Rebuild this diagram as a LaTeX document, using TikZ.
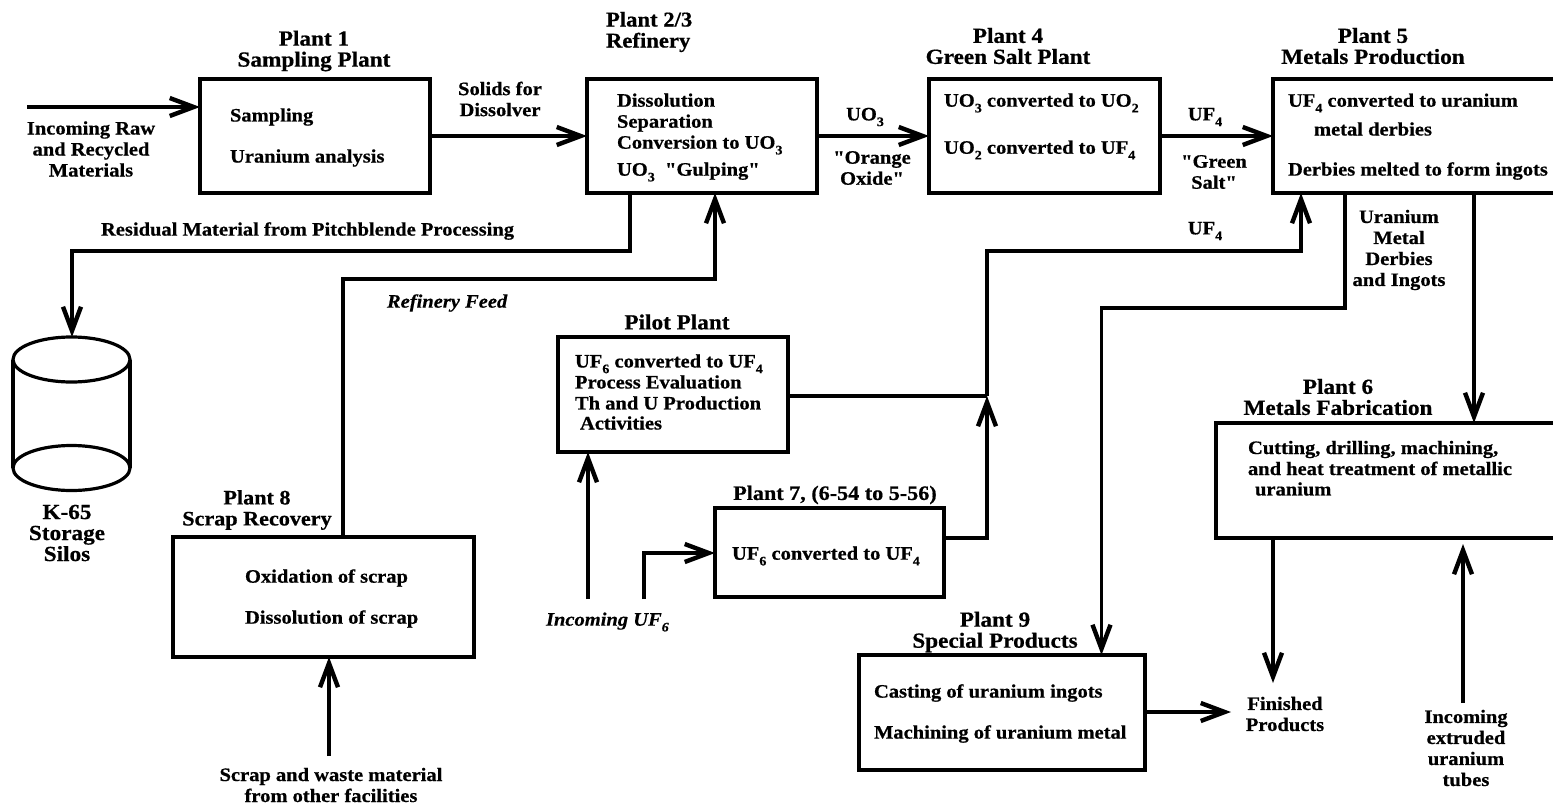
\documentclass[tikz,border=0pt]{standalone}
\usepackage{fontspec}
\defaultfontfeatures[\rmfamily]{}
\setmainfont[FakeStretch=1.08,BoldFeatures={FakeBold=0.6,FakeStretch=1.08},BoldItalicFeatures={FakeBold=0.4,FakeStretch=1.08}]{Liberation Serif}
\usetikzlibrary{arrows.meta}
\newcommand{\subs}[1]{\raisebox{-0.3em}{\fontsize{13}{13}\selectfont #1}}
\newcommand{\dq}{{\char34}}
\tikzset{
  x=1pt,y=-1pt,
  pbox/.style={draw=black,line width=3.6pt,inner sep=0pt,outer sep=0pt,fill=none},
  flow/.style={draw=black,line width=3.2pt,line join=miter,-{Straight Barb[length=24pt,width=18pt,line width=4.4pt]}},
  thickflow/.style={flow,line width=4.2pt},
  pipe/.style={draw=black,line width=3.2pt,line join=miter},
  txt/.style={font=\bfseries\fontsize{19}{21}\selectfont,inner sep=0pt,outer sep=0pt,text=black},
  lft/.style={txt,anchor=west,align=left},
  ctr/.style={txt,anchor=center,align=center},
  ttl/.style={txt,anchor=center,align=center,font=\bfseries\fontsize{21.5}{21}\selectfont},
  ital/.style={font=\bfseries\itshape\fontsize{19}{21}\selectfont},
}
\begin{document}
\begin{tikzpicture}
\useasboundingbox (0,0) rectangle (1553,806);
\fill[white] (0,0) rectangle (1553,806);
\clip (0,0) rectangle (1553,806);
% boxes
\node[pbox,minimum width=230pt,minimum height=114pt] (p1) at (315,136) {};
\node[pbox,minimum width=230pt,minimum height=114pt] (p2) at (702,136) {};
\node[pbox,minimum width=231pt,minimum height=114pt] (p4) at (1044.5,136) {};
\node[pbox,minimum width=300pt,minimum height=114pt] (p5) at (1423,136) {};
\node[pbox,minimum width=230pt,minimum height=115pt] (pilot) at (673,394.5) {};
\node[pbox,minimum width=229pt,minimum height=89pt] (p7) at (829.5,552.5) {};
\node[pbox,minimum width=301pt,minimum height=120pt] (p8) at (323.5,597) {};
\node[pbox,minimum width=286pt,minimum height=115pt] (p9) at (1002,712.5) {};
\node[pbox,minimum width=350pt,minimum height=115pt] (p6) at (1391,480.5) {};
% silo
\coordinate (silotop) at (72,337);
\draw[pipe] (71.5,359.5) ellipse[x radius=58.5,y radius=22.5];
\draw[pipe] (13,359.5) -- (13,468);
\draw[pipe] (130,359.5) -- (130,468);
\draw[pipe] (71.5,468) ellipse[x radius=58.5,y radius=22.5];
% free ends
\coordinate (rawin) at (27,107);
\coordinate (uf6a) at (588,599);
\coordinate (uf6b) at (644,599);
\coordinate (scrapin) at (329,756);
\coordinate (tubes) at (1463,703);
\coordinate (fin1) at (1273,683);
\coordinate (fin2) at (1231,712);
\coordinate (join) at (987,396);
% connectors
\draw[thickflow] (rawin) -- (p1.west |- rawin);
\draw[thickflow] (p1.east |- 0,136) -- (p2.west |- 0,136);
\draw[thickflow] (p2.east |- 0,136) -- (p4.west |- 0,136);
\draw[thickflow] (p4.east |- 0,136) -- (p5.west |- 0,136);
\draw[flow] (630,193) -- (630,251) -- (72,251) -- (silotop);
\draw[flow] (343,537) -- (343,279) -- (715,279) -- (715,193);
\draw[pipe] (pilot.east |- join) -- (join);
\draw[flow] (p7.east |- 0,538) -- (987,538) -- (join);
\draw[flow] (join) -- (987,251) -- (1301,251) -- (1301,193);
\draw[flow] (uf6a) -- (uf6a |- pilot.south);
\draw[flow] (uf6b) -- (644,553) -- (p7.west |- 0,553);
\draw[flow] (scrapin) -- (scrapin |- p8.south);
\draw[flow] (1345,193) -- (1345,308) -- (1101.5,308) -- (1101.5,655);
\draw[flow] (1474,193) -- (1474,423);
\draw[flow] (fin1 |- p6.south) -- (fin1);
\draw[flow] (tubes) -- (1463,544);
\draw[thickflow] (p9.east |- fin2) -- (fin2);
% texts
\node[ttl] (t1) at (314,51) {Plant 1\\Sampling Plant};
\node[ctr] (t2) at (91,149) {Incoming Raw\\and Recycled\\Materials};
\node[lft] (t3) at (230,117) {Sampling};
\node[lft] (t4) at (230,158) {Uranium analysis};
\node[ctr] (t5) at (500,99) {Solids for\\Dissolver};
\node[lft,font=\bfseries\fontsize{21}{21}\selectfont] (t6) at (606,32) {Plant 2/3\\Refinery};
\node[lft] (t7) at (617,124) {Dissolution\\Separation\\Conversion to UO\subs{3}};
\node[lft] (t8) at (617,172) {UO\subs{3} \ \dq Gulping\dq};
\node[ctr] (t9) at (865,117) {UO\subs{3}};
\node[ctr] (t10) at (872,168) {\dq Orange\\Oxide\dq};
\node[ttl] (t11) at (1008,46) {Plant 4\\Green Salt Plant};
\node[lft] (t12) at (944,103) {UO\subs{3} converted to UO\subs{2}};
\node[lft] (t13) at (944,150) {UO\subs{2} converted to UF\subs{4}};
\node[ctr] (t14) at (1205,117) {UF\subs{4}};
\node[ctr] (t15) at (1214,172) {\dq Green\\Salt\dq};
\node[ttl] (t16) at (1373,46) {Plant 5\\Metals Production};
\node[lft] (t17) at (1288,103) {UF\subs{4} converted to uranium};
\node[lft] (t18) at (1314,129) {metal derbies};
\node[lft] (t19) at (1288,171) {Derbies melted to form ingots};
\node[ctr] (t20) at (1205,231) {UF\subs{4}};
\node[ctr] (t21) at (1399,250) {Uranium\\Metal\\Derbies\\and Ingots};
\node[lft] (t22) at (101,231) {Residual Material from Pitchblende Processing};
\node[lft,ital] (t23) at (387,303) {Refinery Feed};
\node[ttl] (t24) at (677,322) {Pilot Plant};
\node[lft] (t25) at (575,382) {UF\subs{6} converted to UF\subs{4}\\Process Evaluation\\Th and U Production};
\node[lft] (t26) at (580,423) {Activities};
\node[ttl] (t27) at (67,533) {K-65\\Storage\\Silos};
\node[ttl,font=\bfseries\fontsize{20.5}{21}\selectfont] (t28) at (257,510) {Plant 8\\Scrap Recovery};
\node[lft] (t29) at (245,578) {Oxidation of scrap};
\node[lft] (t30) at (245,619) {Dissolution of scrap};
\node[lft,ital] (t31) at (546,622) {Incoming UF\subs{6}};
\node[ttl,font=\bfseries\fontsize{20.5}{21}\selectfont] (t32) at (835,495) {Plant 7, (6-54 to 5-56)};
\node[lft] (t33) at (732,556) {UF\subs{6} converted to UF\subs{4}};
\node[ttl] (t34) at (1338,397) {Plant 6\\Metals Fabrication};
\node[lft] (t35) at (1248,458) {Cutting, drilling, machining,\\and heat treatment of metallic};
\node[lft] (t36) at (1255,489) {uranium};
\node[ttl] (t37) at (995,632) {Plant 9\\Special Products};
\node[lft] (t38) at (874,693) {Casting of uranium ingots};
\node[lft] (t39) at (874,734) {Machining of uranium metal};
\node[ctr] (t40) at (1285,714) {Finished\\Products};
\node[ctr] (t41) at (1466,748) {Incoming\\extruded\\uranium\\tubes};
\node[ctr] (t42) at (331,785) {Scrap and waste material\\from other facilities};
\end{tikzpicture}
\end{document}
